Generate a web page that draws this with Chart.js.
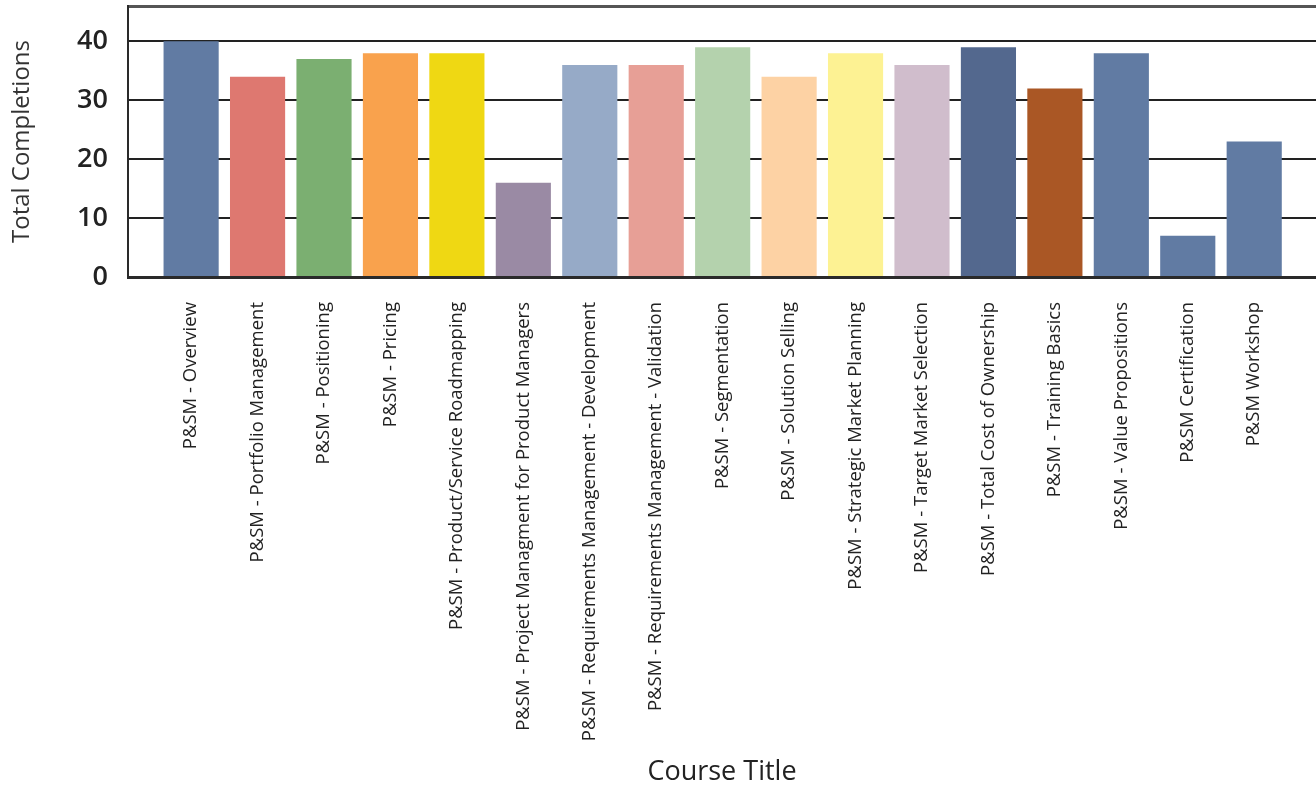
<!DOCTYPE html>
<html>
<head>
<meta charset="utf-8">
<script src="https://cdn.jsdelivr.net/npm/chart.js@4"></script>
<style>
  html, body { margin: 0; padding: 0; background: #fff; }
  #wrap { width: 1316px; height: 789px; }
</style>
</head>
<body>
<div id="wrap"><canvas id="myBarChart" width="1316" height="789"></canvas></div>
<script>
// course titles and completions
var courses = [
    "P&SM - Overview",
    "P&SM - Portfolio Management",
    "P&SM - Positioning",
    "P&SM - Pricing",
    "P&SM - Product/Service Roadmapping",
    "P&SM - Project Managment for Product Managers",
    "P&SM - Requirements Management - Development",
    "P&SM - Requirements Management - Validation",
    "P&SM - Segmentation",
    "P&SM - Solution Selling",
    "P&SM - Strategic Market Planning",
    "P&SM - Target Market Selection",
    "P&SM - Total Cost of Ownership",
    "P&SM - Training Basics",
    "P&SM - Value Propositions",
    "P&SM Certification",
    "P&SM Workshop"
];
var completions = [40, 34, 37, 38, 38, 16, 36, 36, 39, 34, 38, 36, 39, 32, 38, 7, 23];
var barColors = [
    "#617BA3", "#DE7870", "#7BAF71", "#F9A24D", "#EFD813", "#9A8AA4",
    "#96AAC7", "#E79F96", "#B4D2AD", "#FDD2A4", "#FDF293", "#D0BDCC",
    "#53688E", "#AA5725", "#617BA3", "#617BA3", "#617BA3"
];
var yTicks = [0, 10, 20, 30, 40];

function noPadding(scale) {
    scale.paddingTop = 0;
    scale.paddingBottom = 0;
    scale.paddingLeft = 0;
    scale.paddingRight = 0;
}

var ctx = document.getElementById('myBarChart').getContext('2d');
var myBarChart = new Chart(ctx, {
    type: 'bar',
    data: {
        datasets: [{
            label: "Total Completions",
            data: completions.map(function (v, i) { return { x: i, y: v }; }),
            backgroundColor: barColors,
            borderWidth: 0,
            barPercentage: 0.83,
            categoryPercentage: 1
        }]
    },
    options: {
        responsive: false,
        animation: false,
        layout: { padding: { top: 6, right: 0, left: 0, bottom: 0 } },
        plugins: {
            legend: { display: false },
            tooltip: { enabled: false }
        },
        scales: {
            x: {
                type: 'linear',
                min: -0.95,
                max: 16.93,
                offset: false,
                afterBuildTicks: function (scale) {
                    scale.ticks = courses.map(function (c, i) { return { value: i }; });
                },
                afterFit: function (scale) { scale.height = 512; noPadding(scale); },
                grid: { display: false, offset: false },
                border: { display: true, color: "#2a2a2a", width: 3 },
                ticks: {
                    autoSkip: false,
                    minRotation: 90,
                    maxRotation: 90,
                    padding: 17,
                    color: "#222",
                    font: { family: "'Open Sans'", size: 18.5 },
                    callback: function (value) { return courses[value]; }
                },
                title: {
                    display: true,
                    text: "Course Title",
                    color: "#222",
                    font: { family: "'Open Sans'", size: 27 },
                    padding: { top: 0, bottom: 0 }
                }
            },
            y: {
                min: 0,
                max: 46,
                afterBuildTicks: function (scale) {
                    scale.ticks = yTicks.map(function (v) { return { value: v }; }).concat([{ value: 46 }]);
                },
                afterFit: function (scale) { scale.width = 128; noPadding(scale); },
                grid: {
                    drawTicks: false,
                    color: function (c) { return c.tick && c.tick.value === 46 ? "#555" : "#222"; },
                    lineWidth: function (c) { return c.tick && c.tick.value === 46 ? 3 : 2; }
                },
                border: { display: true, color: "#2a2a2a", width: 2 },
                ticks: {
                    padding: 20,
                    color: "#222",
                    font: { family: "'Open Sans'", size: 27, weight: '600' },
                    callback: function (value) { return value === 46 ? "" : value; }
                },
                title: {
                    display: true,
                    text: "Total Completions",
                    color: "#333",
                    font: { family: "'Open Sans'", size: 24 },
                    padding: { top: 8, bottom: 0 }
                }
            }
        }
    }
});
</script>
</body>
</html>
